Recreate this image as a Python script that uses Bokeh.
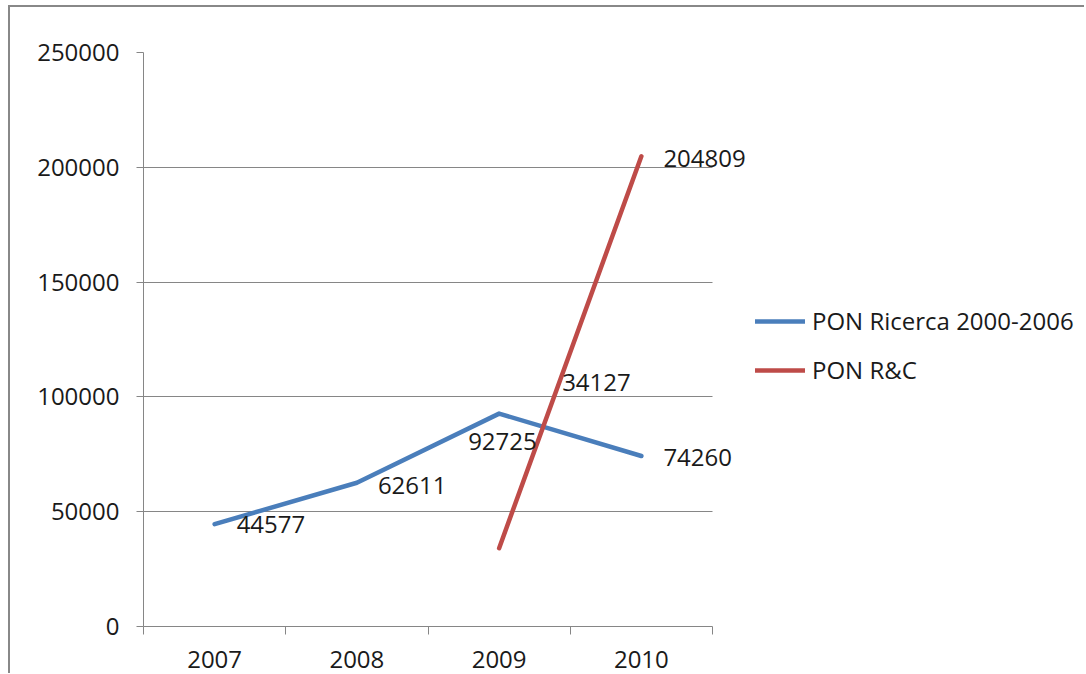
from bokeh.plotting import figure
from bokeh.models import (ColumnDataSource, FixedTicker, Legend, LegendItem, Range1d,
                          LabelSet)
from bokeh.core.properties import value
from bokeh.embed import file_html
from bokeh.resources import INLINE

# ---- data ----
years = ["2007", "2008", "2009", "2010"]
ricerca_years = ["2007", "2008", "2009", "2010"]
ricerca_values = [44577, 62611, 92725, 74260]
rc_years = ["2009", "2010"]
rc_values = [34127, 204809]
y_ticks = [0, 50000, 100000, 150000, 200000, 250000]

# label placement (screen px offsets from each point, y up-positive)
ricerca_lbl_dx = [22, 21, -31, 22]
ricerca_lbl_dy = [0, -3, -28, -2]
rc_lbl_dx = [63, 22]
rc_lbl_dy = [166, -2]

FONT = "Open Sans"
FS = "24px"
BLUE = "#4a7ebb"
RED = "#be4b48"
GRID = "#868686"
TXT = "#1a1a1a"

PLOT_W = 569          # width of the category area in px
FRAME_W = 933         # frame extends right to host labels/legend
n = len(years)

def xpos(cats):
    return [years.index(c) + 0.5 for c in cats]

src_b = ColumnDataSource(dict(x=xpos(ricerca_years), y=ricerca_values,
                              t=[str(v) for v in ricerca_values],
                              dx=ricerca_lbl_dx, dy=ricerca_lbl_dy))
src_r = ColumnDataSource(dict(x=xpos(rc_years), y=rc_values,
                              t=[str(v) for v in rc_values],
                              dx=rc_lbl_dx, dy=rc_lbl_dy))

p = figure(width=133 + FRAME_W + 8, height=666, output_backend="svg", toolbar_location=None,
           x_range=Range1d(0, n * FRAME_W / PLOT_W), y_range=Range1d(0, 250000),
           min_border_left=133, min_border_top=45, min_border_right=8,
           min_border_bottom=47, frame_width=FRAME_W, frame_height=574,
           background_fill_color="white", border_fill_color="white")
p.styles = {"border-top": "2px solid #888888", "border-left": "2px solid #888888",
            "margin-left": "8px", "margin-top": "5px"}
p.outline_line_color = None

# axes
p.yaxis.ticker = FixedTicker(ticks=y_ticks)
p.yaxis.formatter.use_scientific = False
p.yaxis.axis_line_color = GRID
p.yaxis.major_tick_line_color = GRID
p.yaxis.major_tick_out = 7
p.yaxis.major_tick_in = 0
p.yaxis.minor_tick_line_color = None
p.yaxis.major_label_standoff = 17
p.yaxis.major_label_text_font = FONT
p.yaxis.major_label_text_font_size = FS
p.yaxis.major_label_text_color = TXT

p.xaxis.bounds = (0, n)
p.xaxis.ticker = FixedTicker(ticks=[i + 0.5 for i in range(n)],
                             minor_ticks=list(range(n + 1)))
p.xaxis.major_label_overrides = {i + 0.5: y for i, y in enumerate(years)}
p.xaxis.axis_line_color = GRID
p.xaxis.major_tick_line_color = None
p.xaxis.minor_tick_line_color = GRID
p.xaxis.minor_tick_out = 8
p.xaxis.minor_tick_in = 0
p.xaxis.major_label_standoff = 16
p.xaxis.major_label_text_font = FONT
p.xaxis.major_label_text_font_size = FS
p.xaxis.major_label_text_color = TXT

p.xgrid.grid_line_color = None
p.ygrid.grid_line_color = GRID
p.ygrid.ticker = FixedTicker(ticks=y_ticks)
p.ygrid.cross_bounds = (0, n)

lb = p.line("x", "y", source=src_b, line_color=BLUE, line_width=4.5,
            line_cap="round", line_join="round")
lr = p.line("x", "y", source=src_r, line_color=RED, line_width=4.5,
            line_cap="round", line_join="round")

for s in (src_b, src_r):
    p.add_layout(LabelSet(x="x", y="y", text="t", source=s, x_offset="dx", y_offset="dy",
                          text_align="left", text_baseline="middle",
                          text_font=value(FONT), text_font_size=FS,
                          text_color=TXT))

legend = Legend(items=[LegendItem(label="PON Ricerca 2000-2006", renderers=[lb]),
                       LegendItem(label="PON R&C", renderers=[lr])],
                location=(612, 240), glyph_width=50, glyph_height=20,
                label_height=20, spacing=16, label_standoff=7, padding=0, margin=0,
                border_line_color=None, background_fill_alpha=0,
                label_text_font=FONT, label_text_font_size=FS,
                label_text_color=TXT, label_text_baseline="middle")
p.add_layout(legend, "center")

open("out.html", "w").write(file_html(p, INLINE))
